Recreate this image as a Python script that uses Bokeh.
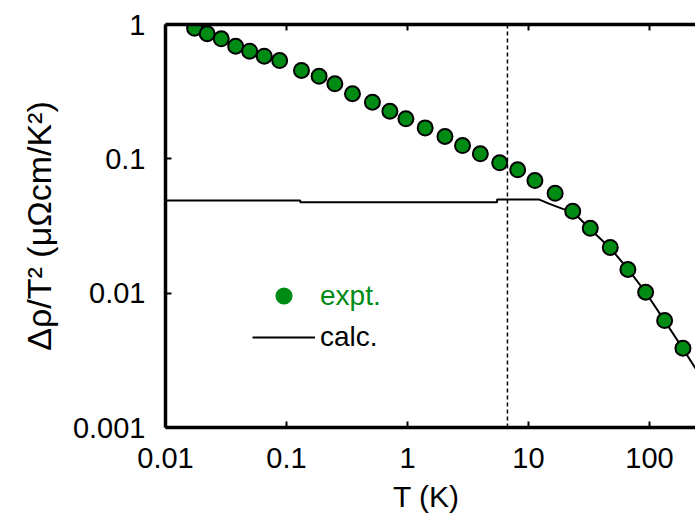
from bokeh.plotting import figure
from bokeh.models import (ColumnDataSource, Span, LogAxis, FixedTicker,
                          CustomJSTickFormatter, Legend, LegendItem)
from bokeh.embed import file_html
from bokeh.resources import INLINE

# ---- data ----
expt_T = [0.0174, 0.0221, 0.0289, 0.0380, 0.0496, 0.0655, 0.0878, 0.133, 0.186,
          0.251, 0.351, 0.513, 0.715, 0.970, 1.40, 2.04, 2.85, 4.00, 5.78, 8.14,
          11.3, 16.6, 23.2, 32.4, 47.4, 66.3, 92.9, 133.4, 189.0]
expt_y = [0.938, 0.853, 0.782, 0.689, 0.633, 0.581, 0.539, 0.455, 0.412,
          0.362, 0.305, 0.264, 0.226, 0.1986, 0.170, 0.1466, 0.1256, 0.1089,
          0.0934, 0.0828, 0.0689, 0.0554, 0.0407, 0.0304, 0.0219, 0.0150,
          0.01016, 0.00625, 0.00389]

calc_T = [0.01, 0.13, 0.13, 5.5, 5.5, 12.3, 14.9, 19.2, 23.2, 31.9, 46.7,
          65.9, 92.9, 133.0, 188.0, 240.0]
calc_y = [0.0489, 0.0489, 0.0475, 0.0475, 0.0497, 0.0497, 0.0462, 0.0424,
          0.0405, 0.0303, 0.0220, 0.01525, 0.01016, 0.00625, 0.00389, 0.00275]

T_mark = 6.7          # dotted vertical line position (K)
x_ticks = [0.01, 0.1, 1, 10, 100]
y_ticks = [0.001, 0.01, 0.1, 1]

GREEN = "#008B14"
FONT = "Liberation Sans"

p = figure(width=695, height=519, x_axis_type="log", y_axis_type="log",
           x_range=(0.01, 240), y_range=(0.001, 1),
           output_backend="svg", toolbar_location=None,
           min_border_left=165, min_border_right=0, min_border_top=24,
           min_border_bottom=92)
p.outline_line_color = None
p.grid.visible = False
p.background_fill_color = "white"
p.border_fill_color = "white"

fmt = CustomJSTickFormatter(code="return Number(tick.toPrecision(3)).toString();")

for ax in (p.xaxis[0], p.yaxis[0]):
    ax.axis_line_width = 3.5
    ax.axis_line_color = "black"
    ax.major_tick_in = 6
    ax.major_tick_out = 0
    ax.major_tick_line_width = 2
    ax.minor_tick_line_color = None
    ax.major_label_text_font = FONT
    ax.major_label_text_font_size = "29px"
    ax.major_label_text_color = "black"
    ax.axis_label_text_font = FONT
    ax.axis_label_text_font_style = "normal"
    ax.axis_label_text_color = "black"
    ax.formatter = fmt

p.xaxis.ticker = FixedTicker(ticks=x_ticks)
p.yaxis.ticker = FixedTicker(ticks=y_ticks)
p.xaxis.major_label_standoff = 20
p.yaxis.major_label_standoff = 20
p.xaxis.axis_label = "T  (K)"
p.xaxis.axis_label_text_font_size = "30px"
p.xaxis.axis_label_standoff = 9
p.yaxis.axis_label = "Δρ/T² (μΩcm/K²)"
p.yaxis.axis_label_text_font_size = "34px"
p.yaxis.axis_label_standoff = 12

top = LogAxis(ticker=FixedTicker(ticks=x_ticks),
              formatter=CustomJSTickFormatter(code="return '';"))
top.axis_line_width = 3.5
top.major_tick_in = 6
top.major_tick_out = 0
top.major_tick_line_width = 2
top.minor_tick_line_color = None
top.major_label_text_font_size = "1px"
top.major_label_standoff = 0
p.add_layout(top, "above")

p.add_layout(Span(location=T_mark, dimension="height", line_color="black",
                  line_width=1.5, line_dash="4 3"))

calc_src = ColumnDataSource(dict(x=calc_T, y=calc_y))
expt_src = ColumnDataSource(dict(x=expt_T, y=expt_y))

calc_r = p.line("x", "y", source=calc_src, line_color="black", line_width=2)
# legend proxy: plain green dots, fully hidden under the outlined markers
leg_dot = p.scatter("x", "y", source=expt_src, size=15, fill_color=GREEN,
                    line_color=None)
p.scatter("x", "y", source=expt_src, size=15, fill_color=GREEN,
          line_color="black", line_width=2)

leg1 = Legend(items=[LegendItem(label="expt.", renderers=[leg_dot])],
              location=(97, 110), orientation="vertical",
              border_line_color=None, background_fill_alpha=0,
              padding=0, margin=0, spacing=0,
              glyph_width=43, glyph_height=43, label_height=43,
              label_standoff=15, label_text_font=FONT,
              label_text_font_size="28px", label_text_color=GREEN)
leg2 = Legend(items=[LegendItem(label="calc.", renderers=[calc_r])],
              location=(87, 74), orientation="vertical",
              border_line_color=None, background_fill_alpha=0,
              padding=0, margin=0, spacing=0,
              glyph_width=63, glyph_height=30, label_height=30,
              label_standoff=5, label_text_font=FONT,
              label_text_font_size="28px", label_text_color="black")
p.add_layout(leg1, "center")
p.add_layout(leg2, "center")

open("out.html", "w").write(file_html(p, INLINE))
